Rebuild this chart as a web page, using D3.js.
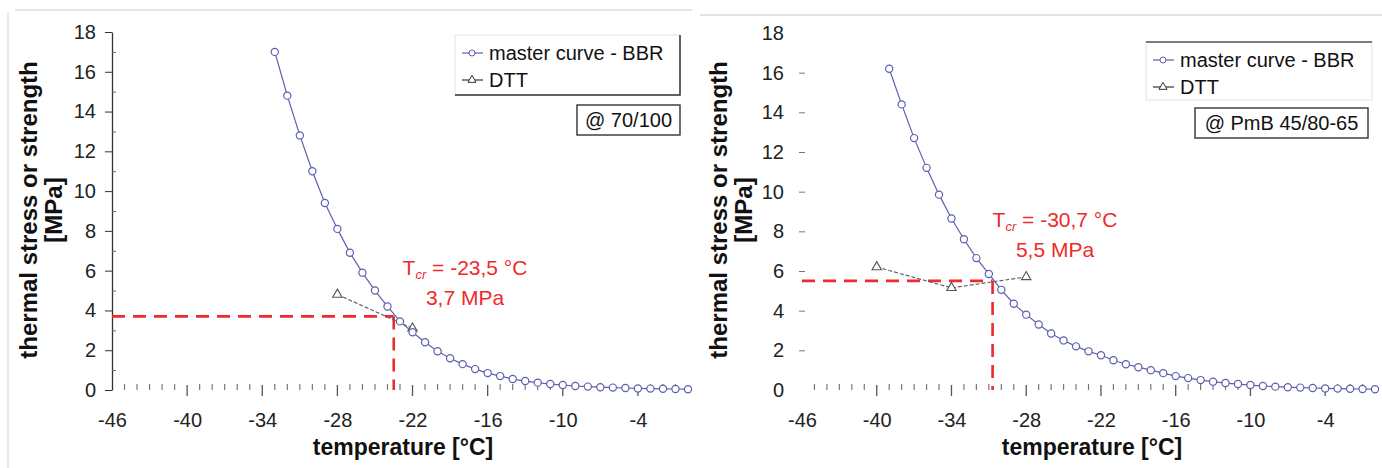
<!DOCTYPE html>
<html>
<head>
<meta charset="utf-8">
<script src="https://cdn.jsdelivr.net/npm/d3@7"></script>
<style>
  body { margin: 0; background: #fff; }
  svg { display: block; font-family: "Liberation Sans", Arial, sans-serif; }
</style>
</head>
<body>
<svg id="chart" width="1382" height="468"></svg>
<script>
'use strict';

// ── Data ───────────────────────────────────────────────────────────────────
const X_TICKS = [-46, -40, -34, -28, -22, -16, -10, -4];
const Y_TICKS = [0, 2, 4, 6, 8, 10, 12, 14, 16, 18];

// 70/100 binder
const LEFT_BBR_T = [-33, -32, -31, -30, -29, -28, -27, -26, -25, -24, -23, -22, -21, -20, -19, -18, -17,
                    -16, -15, -14, -13, -12, -11, -10, -9, -8, -7, -6, -5, -4, -3, -2, -1, 0];
const LEFT_BBR_S = [17.0, 14.8, 12.8, 11.0, 9.4, 8.1, 6.9, 5.9, 5.0, 4.2, 3.45, 2.9, 2.4, 1.95, 1.6, 1.3, 1.05,
                    0.85, 0.7, 0.55, 0.45, 0.37, 0.3, 0.25, 0.2, 0.17, 0.14, 0.12, 0.1, 0.08, 0.07, 0.06, 0.05, 0.04];
const LEFT_DTT_T = [-28, -22];
const LEFT_DTT_S = [4.8, 3.1];
const LEFT_TCR   = [-23.5, 3.7];
const LEFT_LABEL = ['-23,5 °C', '3,7 MPa', '@ 70/100'];

// PmB 45/80-65 binder
const RIGHT_BBR_T = [-39, -38, -37, -36, -35, -34, -33, -32, -31, -30, -29, -28, -27, -26, -25, -24, -23,
                     -22, -21, -20, -19, -18, -17, -16, -15, -14, -13, -12, -11, -10, -9, -8, -7, -6,
                     -5, -4, -3, -2, -1, 0];
const RIGHT_BBR_S = [16.2, 14.4, 12.7, 11.2, 9.85, 8.65, 7.6, 6.65, 5.85, 5.05, 4.35, 3.8, 3.3, 2.85, 2.5, 2.2, 1.95,
                     1.75, 1.5, 1.3, 1.15, 1.0, 0.85, 0.7, 0.6, 0.5, 0.42, 0.35, 0.3, 0.25, 0.2, 0.17, 0.14, 0.12,
                     0.1, 0.08, 0.07, 0.06, 0.05, 0.04];
const RIGHT_DTT_T = [-40, -34, -28];
const RIGHT_DTT_S = [6.2, 5.15, 5.7];
const RIGHT_TCR   = [-30.7, 5.5];
const RIGHT_LABEL = ['-30,7 °C', '5,5 MPa', '@ PmB 45/80-65'];

const BLUE = '#5d5fae';
const RED  = '#ee2a2a';

const panels = [
  { x0: 112, x1: 688, yTop: 32, yBot: 390, axisLine: true,
    bbrT: LEFT_BBR_T, bbrS: LEFT_BBR_S, dttT: LEFT_DTT_T, dttS: LEFT_DTT_S,
    tcr: LEFT_TCR, label: LEFT_LABEL, titleX: 403, yTitleX: [37, 62], annX: 465, annY: [275, 305],
    legend: { x: 455, y: 35, w: 225, h: 60 }, tag: { x: 577, y: 105, w: 103, h: 30 } },
  { x0: 802, x1: 1375, yTop: 33, yBot: 390, axisLine: false,
    bbrT: RIGHT_BBR_T, bbrS: RIGHT_BBR_S, dttT: RIGHT_DTT_T, dttS: RIGHT_DTT_S,
    tcr: RIGHT_TCR, label: RIGHT_LABEL, titleX: 1092, yTitleX: [727, 752], annX: 1055, annY: [227, 257],
    legend: { x: 1146, y: 42, w: 226, h: 58 }, tag: { x: 1195, y: 108, w: 173, h: 30 } },
];

const svg = d3.select('#chart');
svg.append('rect').attr('width', 1382).attr('height', 468).attr('fill', '#fff');

// faint figure frame
svg.append('line').attr('x1', 15).attr('x2', 692).attr('y1', 10).attr('y2', 10)
  .attr('stroke', '#dcdcdc').attr('stroke-width', 1.5);
svg.append('line').attr('x1', 700).attr('x2', 1382).attr('y1', 15).attr('y2', 15)
  .attr('stroke', '#dcdcdc').attr('stroke-width', 1.5);
svg.append('line').attr('x1', 8).attr('x2', 8).attr('y1', 12).attr('y2', 468)
  .attr('stroke', '#e2e2e2').attr('stroke-width', 1.5);

panels.forEach(drawPanel);

function drawPanel(p) {
  const x = d3.scaleLinear().domain([-46, 0]).range([p.x0, p.x1]);
  const y = d3.scaleLinear().domain([0, 18]).range([p.yBot, p.yTop]);
  const g = svg.append('g');

  // Y axis
  const yAx = g.append('g').attr('transform', `translate(${p.x0},0)`)
    .call(d3.axisLeft(y).tickValues(Y_TICKS).tickFormat(d => String(d))
      .tickSize(p.axisLine ? 7 : 6).tickPadding(p.axisLine ? 9 : 12).tickSizeOuter(0));
  yAx.select('.domain')
    .attr('stroke', p.axisLine ? '#333' : 'none').attr('stroke-width', 1.3);
  yAx.selectAll('.tick line').attr('stroke', p.axisLine ? '#333' : '#777')
    .attr('transform', p.axisLine ? null : 'translate(3,0)');
  yAx.selectAll('.tick text').attr('font-size', 20).attr('fill', '#222');
  if (!p.axisLine) yAx.selectAll('.tick').filter(d => d === 0 || d === 18).select('line').remove();

  const yMinor = g.append('g').attr('transform', `translate(${p.x0},0)`)
    .call(d3.axisRight(y).tickValues(d3.range(1, 18, 2)).tickSize(p.axisLine ? 4 : 0).tickFormat(''));
  yMinor.select('.domain').remove();
  yMinor.selectAll('.tick line').attr('stroke', '#666');

  // X axis: labels, then minor / major ticks near zero
  const xAx = g.append('g').attr('transform', `translate(0,${p.yBot})`)
    .call(d3.axisBottom(x).tickValues(X_TICKS).tickFormat(d => String(d)).tickSize(0).tickPadding(23));
  xAx.select('.domain').remove();
  xAx.selectAll('.tick text').attr('font-size', 20).attr('fill', '#222');

  const minor = d3.range(-45, 0).filter(t => (t + 46) % 6 !== 0);
  g.append('g').selectAll('line').data(minor).join('line')
    .attr('x1', d => x(d)).attr('x2', d => x(d))
    .attr('y1', p.yBot - 6).attr('y2', p.yBot)
    .attr('stroke', '#777').attr('stroke-width', 1.2);
  g.append('g').selectAll('line').data(X_TICKS.slice(1)).join('line')
    .attr('x1', d => x(d)).attr('x2', d => x(d))
    .attr('y1', p.yBot - 5).attr('y2', p.yBot + 6)
    .attr('stroke', '#555').attr('stroke-width', 1.3);

  // Axis titles
  g.append('text').attr('x', p.titleX).attr('y', 455)
    .attr('text-anchor', 'middle').attr('font-size', 23).attr('font-weight', 'bold').attr('fill', '#111')
    .text('temperature [°C]');
  ['thermal stress or strength', '[MPa]'].forEach((t, i) => {
    g.append('text')
      .attr('transform', `translate(${p.yTitleX[i]},210) rotate(-90)`)
      .attr('text-anchor', 'middle').attr('font-size', 24).attr('font-weight', 'bold').attr('fill', '#111')
      .text(t);
  });

  // Critical temperature guides
  const [tc, sc] = p.tcr;
  g.append('line').attr('x1', x(-46)).attr('x2', x(tc)).attr('y1', y(sc)).attr('y2', y(sc))
    .attr('stroke', RED).attr('stroke-width', 2.6).attr('stroke-dasharray', '13,8');
  g.append('line').attr('x1', x(tc)).attr('x2', x(tc)).attr('y1', y(sc)).attr('y2', y(0))
    .attr('stroke', RED).attr('stroke-width', 2.6).attr('stroke-dasharray', '13,8');

  // DTT
  const dtt = p.dttT.map((t, i) => ({ t, s: p.dttS[i] }));
  g.append('path').datum(dtt)
    .attr('fill', 'none').attr('stroke', '#666').attr('stroke-width', 1.2).attr('stroke-dasharray', '4,2')
    .attr('d', d3.line().x(d => x(d.t)).y(d => y(d.s)));
  g.append('g').selectAll('path').data(dtt).join('path')
    .attr('transform', d => `translate(${x(d.t)},${y(d.s)})`)
    .attr('d', d3.symbol(d3.symbolTriangle, 38))
    .attr('fill', '#fff').attr('stroke', '#555').attr('stroke-width', 1.1);

  // Master curve BBR
  const bbr = p.bbrT.map((t, i) => ({ t, s: p.bbrS[i] }));
  g.append('path').datum(bbr)
    .attr('fill', 'none').attr('stroke', BLUE).attr('stroke-width', 1.2)
    .attr('d', d3.line().x(d => x(d.t)).y(d => y(d.s)));
  g.append('g').selectAll('circle').data(bbr).join('circle')
    .attr('cx', d => x(d.t)).attr('cy', d => y(d.s)).attr('r', 3.6)
    .attr('fill', '#fff').attr('stroke', BLUE).attr('stroke-width', 1.2);

  // Annotation
  const a1 = g.append('text').attr('x', p.annX).attr('y', p.annY[0]).attr('text-anchor', 'middle')
    .attr('font-size', 21).attr('fill', RED);
  a1.append('tspan').text('T');
  a1.append('tspan').attr('font-size', 13).attr('font-style', 'italic').attr('dy', 4).text('cr');
  a1.append('tspan').attr('dy', -4).text(' = ' + p.label[0]);
  g.append('text').attr('x', p.annX).attr('y', p.annY[1]).attr('text-anchor', 'middle')
    .attr('font-size', 21).attr('fill', RED).text(p.label[1]);

  // Legend
  const L = p.legend;
  const lg = g.append('g');
  lg.append('rect').attr('x', L.x).attr('y', L.y).attr('width', L.w).attr('height', L.h)
    .attr('fill', '#fff').attr('stroke', '#e4e4e4');
  if (p.axisLine) {
    lg.append('path').attr('d', `M${L.x + L.w},${L.y} V${L.y + L.h} H${L.x}`)
      .attr('fill', 'none').attr('stroke', '#333').attr('stroke-width', 1.5);
  } else {
    lg.append('path').attr('d', `M${L.x},${L.y} H${L.x + L.w}`)
      .attr('fill', 'none').attr('stroke', '#555').attr('stroke-width', 1.5);
  }
  const rows = [
    { name: 'master curve - BBR', color: BLUE, sym: 'circle' },
    { name: 'DTT', color: '#333', sym: 'tri' },
  ];
  rows.forEach((r, i) => {
    const cy = L.y + 18 + i * 27;
    lg.append('line').attr('x1', L.x + 7).attr('x2', L.x + 28).attr('y1', cy).attr('y2', cy)
      .attr('stroke', r.color).attr('stroke-width', 1.2);
    if (r.sym === 'circle') {
      lg.append('circle').attr('cx', L.x + 17).attr('cy', cy).attr('r', 3)
        .attr('fill', '#fff').attr('stroke', r.color);
    } else {
      lg.append('path').attr('transform', `translate(${L.x + 17},${cy})`)
        .attr('d', d3.symbol(d3.symbolTriangle, 28)).attr('fill', '#fff').attr('stroke', r.color);
    }
    lg.append('text').attr('x', L.x + 34).attr('y', cy).attr('dy', '0.35em')
      .attr('font-size', 20).attr('fill', '#111').text(r.name);
  });

  // Binder tag
  const T = p.tag;
  g.append('rect').attr('x', T.x).attr('y', T.y).attr('width', T.w).attr('height', T.h)
    .attr('fill', '#fff').attr('stroke', '#333').attr('stroke-width', 1.4);
  g.append('text').attr('x', T.x + T.w / 2).attr('y', T.y + T.h / 2).attr('dy', '0.35em')
    .attr('text-anchor', 'middle').attr('font-size', 20).attr('fill', '#111').text(p.label[2]);
}
</script>
</body>
</html>
